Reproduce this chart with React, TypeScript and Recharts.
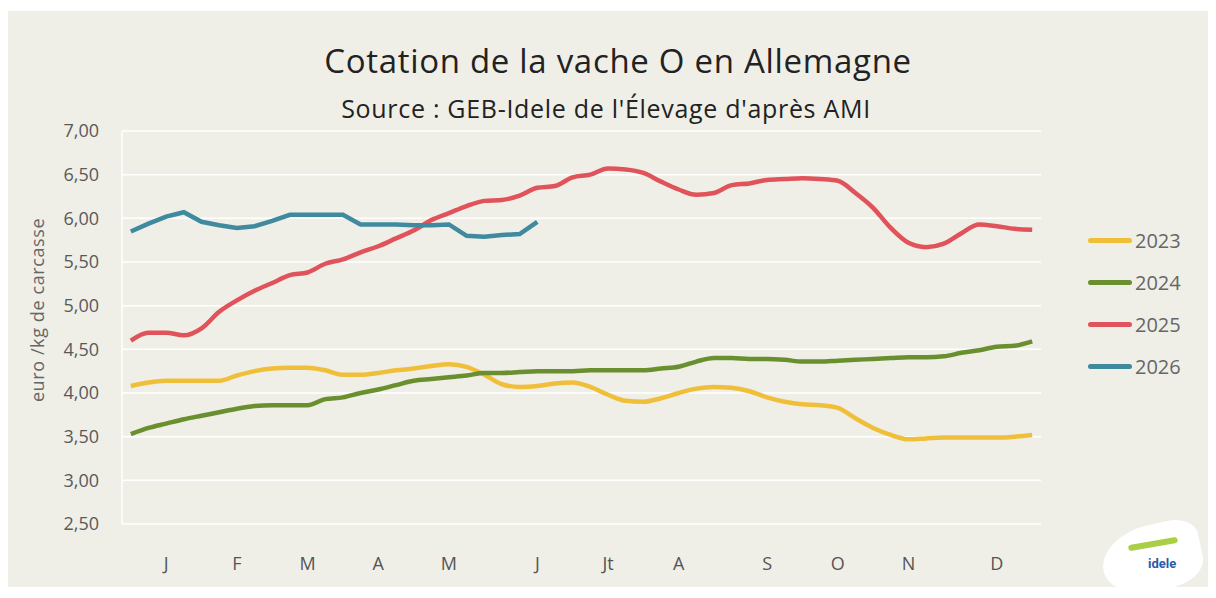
import { LineChart, Line, XAxis, YAxis, CartesianGrid } from 'recharts'

const weeks = Array.from({ length: 52 }, (_, i) => i + 1)

const monthTicks = [3, 7, 11, 15, 19, 24, 28, 32, 37, 41, 45, 50]
const monthLabels = ['J', 'F', 'M', 'A', 'M', 'J', 'Jt', 'A', 'S', 'O', 'N', 'D']
const minorTicks = [0, ...weeks].map((w) => w + 0.5)

const yTicks = [2.5, 3, 3.5, 4, 4.5, 5, 5.5, 6, 6.5, 7]

const v2023 = [
  4.08, 4.12, 4.14, 4.14, 4.14, 4.14, 4.2, 4.25, 4.28, 4.29,
  4.29, 4.26, 4.21, 4.21, 4.23, 4.26, 4.28, 4.31, 4.33, 4.3,
  4.21, 4.1, 4.07, 4.08, 4.11, 4.12, 4.07, 3.98, 3.91, 3.9,
  3.94, 4.0, 4.05, 4.07, 4.06, 4.02, 3.95, 3.9, 3.87, 3.86,
  3.83, 3.71, 3.6, 3.52, 3.47, 3.48, 3.49, 3.49, 3.49, 3.49,
  3.5, 3.52,
]
const v2024 = [
  3.53, 3.6, 3.65, 3.7, 3.74, 3.78, 3.82, 3.85, 3.86, 3.86,
  3.86, 3.93, 3.95, 4.0, 4.04, 4.09, 4.14, 4.16, 4.18, 4.2,
  4.23, 4.23, 4.24, 4.25, 4.25, 4.25, 4.26, 4.26, 4.26, 4.26,
  4.28, 4.3, 4.36, 4.4, 4.4, 4.39, 4.39, 4.38, 4.36, 4.36,
  4.37, 4.38, 4.39, 4.4, 4.41, 4.41, 4.42, 4.46, 4.49, 4.53,
  4.54, 4.59,
]
const v2025 = [
  4.6, 4.69, 4.69, 4.66, 4.74, 4.93, 5.06, 5.17, 5.26, 5.35,
  5.38, 5.48, 5.53, 5.61, 5.68, 5.77, 5.86, 5.98, 6.06, 6.14,
  6.2, 6.21, 6.26, 6.35, 6.37, 6.47, 6.5, 6.57, 6.56, 6.52,
  6.42, 6.33, 6.27, 6.29, 6.38, 6.4, 6.44, 6.45, 6.46, 6.45,
  6.43, 6.29, 6.12, 5.89, 5.72, 5.67, 5.71, 5.83, 5.93, 5.91,
  5.88, 5.87,
]
const v2026 = [
  5.85, 5.94, 6.02, 6.07, 5.96, 5.92, 5.89, 5.91, 5.97, 6.04,
  6.04, 6.04, 6.04, 5.93, 5.93, 5.93, 5.92, 5.92, 5.93, 5.8,
  5.79, 5.81, 5.82, 5.96,
]

const series = [
  { key: 'y2023', name: '2023', color: '#f0bf3a', type: 'monotone' },
  { key: 'y2024', name: '2024', color: '#6a8f2e', type: 'monotone' },
  { key: 'y2025', name: '2025', color: '#e0535a', type: 'monotone' },
  { key: 'y2026', name: '2026', color: '#3f8a9e', type: 'linear' },
] as const

const data = weeks.map((w, i) => ({
  week: w,
  y2023: v2023[i],
  y2024: v2024[i],
  y2025: v2025[i],
  y2026: i < v2026.length ? v2026[i] : null,
}))

const font = '"Open Sans", sans-serif'
const fmt = (v: number) => v.toFixed(2).replace('.', ',')

const MinorTick = (props: any) => (
  <line
    x1={props.x}
    x2={props.x}
    y1={props.y}
    y2={props.y + 8}
    stroke="#ffffff"
    strokeWidth={1.5}
  />
)

export default function App() {
  return (
    <div
      style={{
        position: 'relative',
        top: 3,
        width: 1200,
        height: 579,
        background: '#efefe8',
        fontFamily: font,
      }}
    >
      <div
        style={{
          position: 'absolute',
          left: 10,
          width: 1200,
          top: 27,
          textAlign: 'center',
          fontSize: 33,
          letterSpacing: 0.7,
          color: '#222',
        }}
      >
        Cotation de la vache O en Allemagne
      </div>
      <div
        style={{
          position: 'absolute',
          left: -2,
          width: 1200,
          top: 80,
          textAlign: 'center',
          fontSize: 25,
          letterSpacing: 0.7,
          color: '#222',
        }}
      >
        Source : GEB-Idele de l'Élevage d'après AMI
      </div>
      <div
        style={{
          position: 'absolute',
          left: 29,
          top: 299,
          transform: 'translate(-50%, -50%) rotate(-90deg)',
          whiteSpace: 'nowrap',
          fontSize: 18,
          letterSpacing: 0.6,
          color: '#666',
        }}
      >
        euro /kg de carcasse
      </div>

      <LineChart
        width={1200}
        height={579}
        data={data}
        margin={{ top: 120, right: 167, bottom: 26, left: 0 }}
      >
        <CartesianGrid vertical={false} stroke="#ffffff" strokeWidth={1.5} />
        <XAxis
          xAxisId="minor"
          dataKey="week"
          type="number"
          domain={[0.5, 52.5]}
          ticks={minorTicks}
          interval={0}
          axisLine={false}
          tickLine={false}
          tickSize={0}
          tickMargin={0}
          tick={MinorTick}
          height={0}
        />
        <XAxis
          dataKey="week"
          type="number"
          domain={[0.5, 52.5]}
          ticks={monthTicks}
          tickFormatter={(v) => monthLabels[monthTicks.indexOf(v)]}
          axisLine={false}
          tickLine={false}
          tickSize={0}
          tickMargin={33}
          height={40}
          tick={{ fill: '#555', fontSize: 18, fontFamily: font }}
        />
        <YAxis
          width={114}
          domain={[2.5, 7]}
          ticks={yTicks}
          tickFormatter={fmt}
          axisLine={{ stroke: '#ffffff', strokeWidth: 1.5 }}
          tickLine={false}
          tickSize={0}
          tickMargin={23}
          tick={{ fill: '#595959', fontSize: 18, fontFamily: font }}
        />
        {series.map((s) => (
          <Line
            key={s.key}
            dataKey={s.key}
            name={s.name}
            type={s.type}
            stroke={s.color}
            strokeWidth={4.5}
            dot={false}
            activeDot={false}
            isAnimationActive={false}
          />
        ))}
      </LineChart>

      {series.map((s, i) => (
        <div
          key={s.key}
          style={{
            position: 'absolute',
            left: 1080,
            top: 229 + i * 42 - 13,
            height: 26,
            display: 'flex',
            alignItems: 'center',
            fontSize: 20,
            color: '#666',
          }}
        >
          <span
            style={{
              display: 'inline-block',
              width: 44,
              height: 5,
              borderRadius: 3,
              background: s.color,
              marginRight: 3,
            }}
          />
          {s.name}
        </div>
      ))}

      <div
        style={{
          position: 'absolute',
          left: 1094,
          top: 514,
          width: 100,
          height: 66,
          background: '#ffffff',
          borderRadius: '60% 30% 40% 50%',
          transform: 'rotate(-12deg)',
        }}
      />
      <div
        style={{
          position: 'absolute',
          left: 1120,
          top: 530,
          width: 50,
          height: 6,
          borderRadius: 4,
          background: '#a8cf45',
          transform: 'rotate(-10deg)',
        }}
      />
      <div
        style={{
          position: 'absolute',
          left: 1140,
          top: 545,
          fontSize: 13,
          fontWeight: 700,
          color: '#2a5aa8',
          fontFamily: 'Roboto, sans-serif',
        }}
      >
        idele
      </div>
    </div>
  )
}
